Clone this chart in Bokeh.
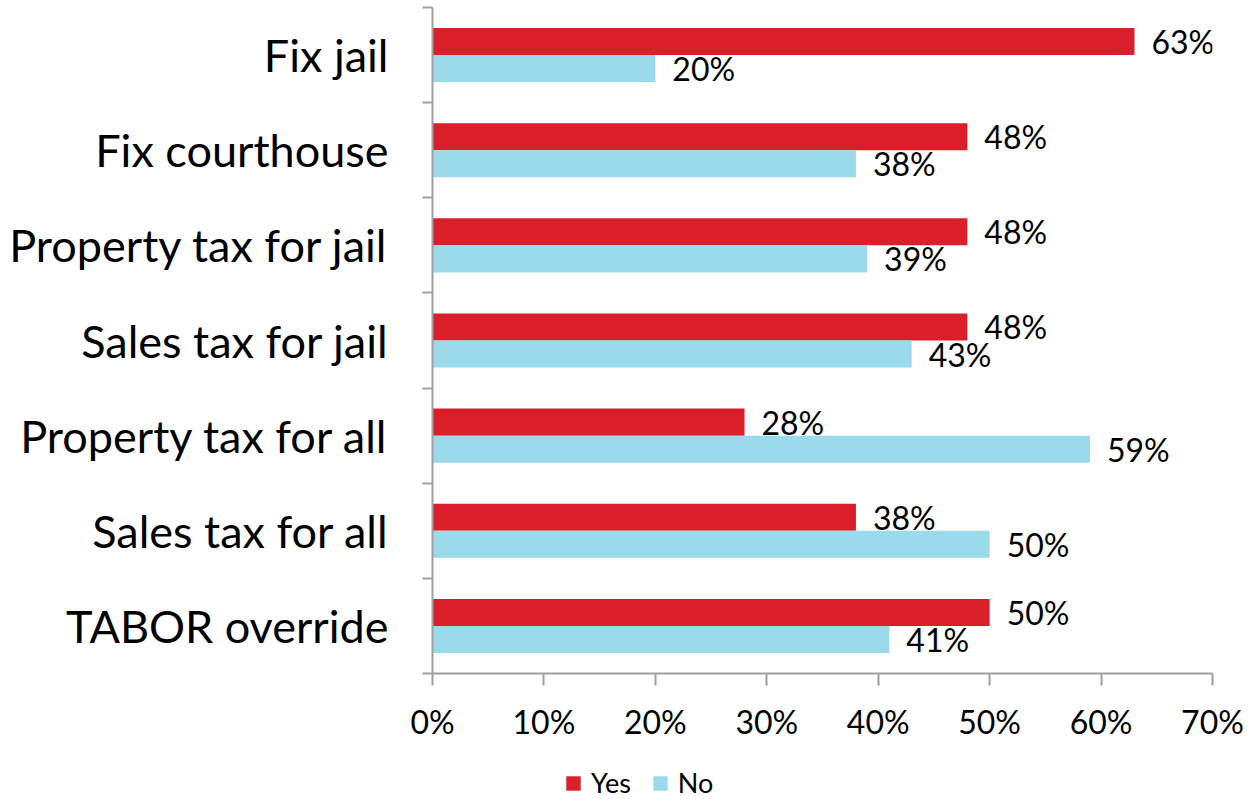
import numpy as np
from bokeh.plotting import figure
from bokeh.layouts import column
from bokeh.models import (ColumnDataSource, Range1d, FixedTicker, PrintfTickFormatter,
                          Legend, LegendItem)
from bokeh.core.properties import value
from bokeh.embed import file_html
from bokeh.resources import INLINE

# ---- data (top to bottom as in the chart) ----
categories = ["Fix jail", "Fix courthouse", "Property tax for jail", "Sales tax for jail",
              "Property tax for all", "Sales tax for all", "TABOR override"]
yes_values = [63, 48, 48, 48, 28, 38, 50]
no_values = [20, 38, 39, 43, 59, 50, 41]
series_names = ["Yes", "No"]
x_ticks = [0, 10, 20, 30, 40, 50, 60, 70]

RED = "#DA1F2A"
BLUE = "#9ADAEA"
FONT = "Lato"

n = len(categories)
centers = [n - 0.5 - i for i in range(n)]
off = 0.142
bar_h = 0.284

src_yes = ColumnDataSource(dict(y=[c + off for c in centers], v=yes_values,
                                lbl=[f"{v}%" for v in yes_values]))
src_no = ColumnDataSource(dict(y=[c - off for c in centers], v=no_values,
                               lbl=[f"{v}%" for v in no_values]))

p = figure(width=1246, height=762, output_backend="svg", toolbar_location=None,
           x_range=Range1d(0, 70), y_range=Range1d(0, n),
           min_border_left=432, min_border_right=34, min_border_top=7, min_border_bottom=89)
p.outline_line_color = None
p.xgrid.visible = False
p.ygrid.visible = False

r_yes = p.hbar(y="y", right="v", left=0, height=bar_h, source=src_yes,
               fill_color=RED, line_color=None)
r_no = p.hbar(y="y", right="v", left=0, height=bar_h, source=src_no,
              fill_color=BLUE, line_color=None)

for src in (src_yes, src_no):
    p.text(x="v", y="y", text="lbl", source=src, x_offset=17,
           text_align="left", text_baseline="middle",
           text_font=value(FONT), text_font_size="32px", text_color="black")

AX = "#A0A0A0"
# x axis
xa = p.xaxis[0]
xa.ticker = FixedTicker(ticks=x_ticks)
xa.formatter = PrintfTickFormatter(format="%d%%")
xa.axis_line_color = AX
xa.axis_line_width = 2
xa.major_tick_line_color = AX
xa.major_tick_line_width = 2
xa.major_tick_out = 12
xa.major_tick_in = 0
xa.minor_tick_line_color = None
xa.major_label_text_font = FONT
xa.major_label_text_font_size = "32px"
xa.major_label_text_color = "black"
xa.major_label_standoff = 16

# y axis
ya = p.yaxis[0]
ya.ticker = FixedTicker(ticks=centers, minor_ticks=list(range(n + 1)))
ya.major_label_overrides = {c: categories[i] for i, c in enumerate(centers)}
ya.axis_line_color = AX
ya.axis_line_width = 2
ya.major_tick_line_color = None
ya.major_tick_out = 0
ya.major_tick_in = 0
ya.minor_tick_line_color = AX
ya.minor_tick_line_width = 2
ya.minor_tick_out = 10
ya.minor_tick_in = 0
ya.major_label_text_font = FONT
ya.major_label_text_font_size = "45px"
ya.major_label_text_color = "black"
ya.major_label_standoff = 34

# ---- legend strip below the chart ----
lf = figure(width=1246, height=37, output_backend="svg", toolbar_location=None,
            x_axis_type=None, y_axis_type=None, x_range=Range1d(0, 1), y_range=Range1d(0, 1),
            min_border_left=0, min_border_right=0, min_border_top=0, min_border_bottom=0)
lf.outline_line_color = None
lf.xgrid.visible = False
lf.ygrid.visible = False
dummy = dict(y=[5], right=[0])
lr_yes = lf.hbar(y="y", right="right", left=0, height=0.1, source=ColumnDataSource(dummy),
                 fill_color=RED, line_color=None)
lr_no = lf.hbar(y="y", right="right", left=0, height=0.1, source=ColumnDataSource(dummy),
                fill_color=BLUE, line_color=None)
legend = Legend(items=[LegendItem(label=series_names[0], renderers=[lr_yes]),
                       LegendItem(label=series_names[1], renderers=[lr_no])],
                orientation="horizontal", location=(132, 0),
                label_text_font=FONT, label_text_font_size="27px", label_text_color="black",
                glyph_width=18, glyph_height=18, label_standoff=9, spacing=20,
                padding=0, margin=0, border_line_color=None, background_fill_alpha=0)
lf.add_layout(legend, "center")

layout = column(p, lf, spacing=0)
open("out.html", "w").write(file_html(layout, INLINE))
